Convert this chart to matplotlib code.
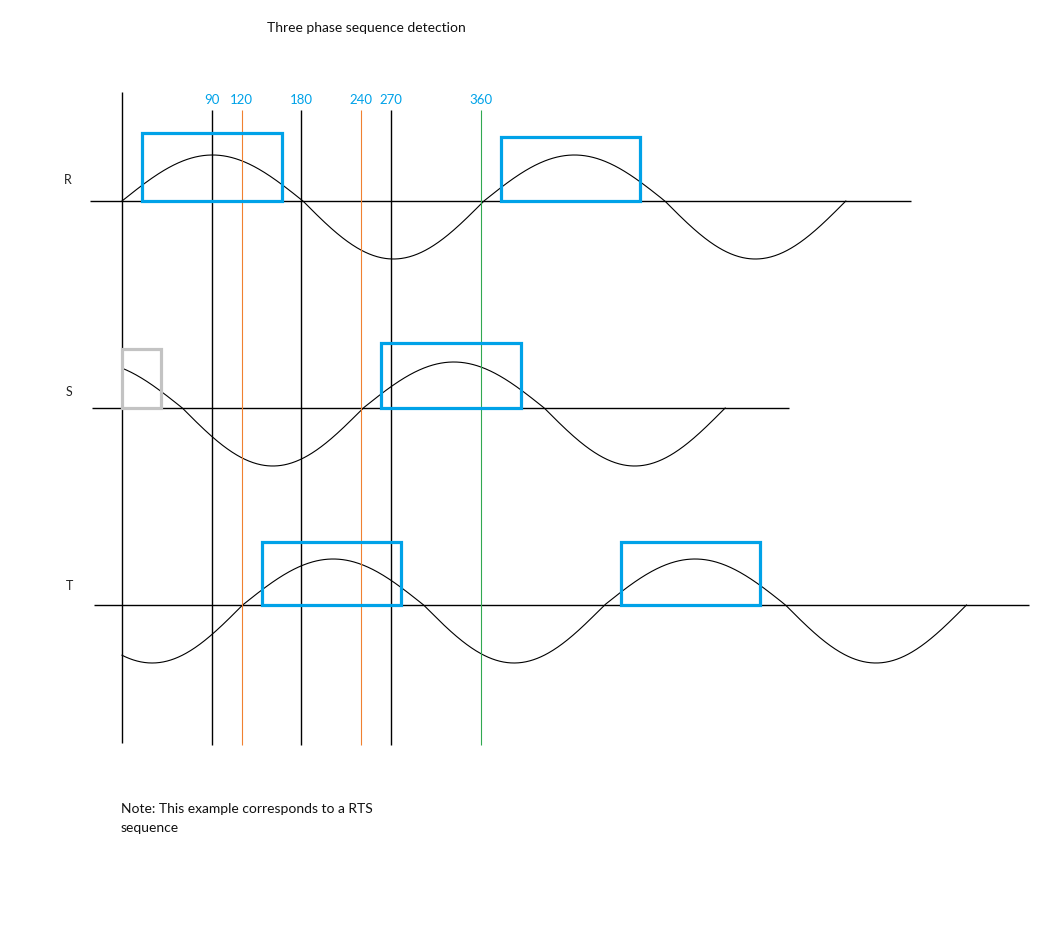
import numpy as np
import matplotlib.pyplot as plt
from matplotlib.patches import Rectangle

# phases: name, phase shift (fraction of a period), drawn length (periods)
phase_names = ['R', 'S', 'T']
phase_shift = [0, 2 / 3, 1 / 3]
wave_length = [2, 5 / 3, 7 / 3]
wave_period = 363  # hand drawn waves are slightly longer than 360 deg

# reference angles marked with vertical lines
marker_deg = [90, 120, 180, 240, 270, 360]
marker_labels = ['90', '120', '180', '240', '270', '360']
marker_colors = ['black', '#f08030', 'black', '#f08030', 'black', '#30a850']

# detection windows (start angle in deg), each 140 deg wide
box_start = {'R': [20, 380], 'S': [260], 'T': [140, 500]}
box_width = 140

# layout (pixel units on y)
baseline_y = [201, 408, 605]
axis_span = [(-32, 791), (-30, 669), (-28, 910)]
box_top = {'R': [133, 137], 'S': [343], 'T': [542, 542]}
amp_up, amp_down = 46, 58
label_xy = [(68, 180), (69, 392), (69, 586)]

BLUE = '#00a2e8'
px = 0.997  # pixels per degree
x0 = 122    # pixel of 0 deg

fig = plt.figure(figsize=(10.56, 9.26), dpi=100)
ax = fig.add_axes([0, 0, 1, 1])
ax.set_xlim(-x0 / px, (1056 - x0) / px)
ax.set_ylim(926, 0)
ax.axis('off')

def px2deg(x):
    return (x - x0) / px

for i, name in enumerate(phase_names):
    y0 = baseline_y[i]
    th = np.linspace(0, wave_length[i] * wave_period, 900)
    s = np.sin(2 * np.pi * (th / wave_period - phase_shift[i]))
    y = y0 - np.where(s > 0, amp_up * s, amp_down * s)
    ax.plot(th, y, color='black', lw=0.8)
    ax.hlines(y0, axis_span[i][0], axis_span[i][1], color='black', lw=1.0)
    for b, top in zip(box_start[name], box_top[name]):
        ax.add_patch(Rectangle((b, top), box_width, y0 - top, fill=False,
                               edgecolor=BLUE, lw=2.3, zorder=3))
    ax.text(px2deg(label_xy[i][0]), label_xy[i][1], name, fontsize=9,
            family='Lato', ha='center', va='center', color='#222222')

# small grey window on S at the start
ax.add_patch(Rectangle((0, 349), 39, 59, fill=False, edgecolor='#c3c3c3',
                       lw=2.3, zorder=3))

# vertical reference lines
ax.vlines(0, 92, 743, color='black', lw=1.0)
for d, lab, c in zip(marker_deg, marker_labels, marker_colors):
    ax.vlines(d, 110, 745, color=c, lw=1.0 if c == 'black' else 0.8)
    ax.text(d, 100, lab, color=BLUE, fontsize=9.5, family='Lato',
            ha='center', va='center')

ax.text(px2deg(366), 28, 'Three phase sequence detection', fontsize=10,
        family='Lato', ha='center', va='center', color='#111111')
ax.text(px2deg(121), 809, 'Note: This example corresponds to a RTS',
        fontsize=10, family='Lato', ha='left', va='center', color='#111111')
ax.text(px2deg(121), 828, 'sequence', fontsize=10, family='Lato',
        ha='left', va='center', color='#111111')

fig.savefig('out.png', dpi=100, facecolor='white')
